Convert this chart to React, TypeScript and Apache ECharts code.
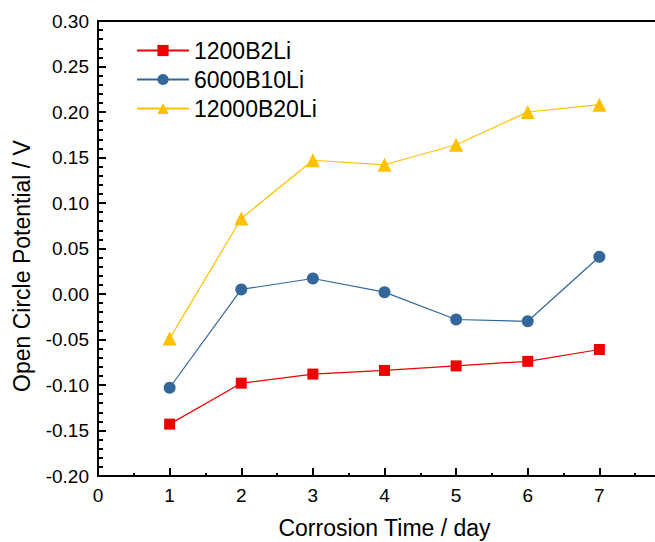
import React, { useEffect, useRef } from "react";
import * as echarts from "echarts";

const days = [1, 2, 3, 4, 5, 6, 7];
const seriesNames = ["1200B2Li", "6000B10Li", "12000B20Li"];
const s1200B2Li = [-0.143, -0.098, -0.088, -0.084, -0.079, -0.074, -0.061];
const s6000B10Li = [-0.103, 0.005, 0.017, 0.002, -0.028, -0.030, 0.041];
const s12000B20Li = [-0.049, 0.083, 0.147, 0.142, 0.164, 0.200, 0.208];
const xTitle = "Corrosion Time / day";
const yTitle = "Open Circle Potential / V";

const FONT = "Arial, 'Liberation Sans', sans-serif";

export default function App() {
  const ref = useRef<HTMLDivElement>(null);
  useEffect(() => {
    if (!ref.current) return;
    const chart = echarts.init(ref.current, undefined, { renderer: "svg" });
    const mk = (vals: number[]) => days.map((d, i) => [d, vals[i]]);
    const colors = ["#f00000", "#336699", "#ffc000"];
    const symbols = ["rect", "circle", "triangle"];
    const sizes = [11, 12, 14];
    const datas = [s1200B2Li, s6000B10Li, s12000B20Li];
    chart.setOption({
      animation: false,
      backgroundColor: "#ffffff",
      textStyle: { fontFamily: FONT },
      grid: { left: 98, top: 21, width: 573, height: 455, outerBoundsMode: "none", containLabel: false },
      legend: {
        left: 131,
        top: 34,
        orient: "vertical",
        itemWidth: 52,
        itemHeight: 14,
        itemGap: 6,
        textStyle: { fontSize: 23, color: "#000", fontFamily: FONT },
        data: seriesNames,
      },
      graphic: [
        {
          type: "text",
          x: 22,
          y: 266,
          rotation: Math.PI / 2,
          style: {
            text: yTitle,
            fontSize: 23,
            fontFamily: FONT,
            fill: "#000",
            align: "center",
            verticalAlign: "middle",
          },
        },
      ],
      xAxis: [
        {
          type: "value",
          min: 0,
          max: 8,
          interval: 1,
          name: xTitle,
          nameLocation: "middle",
          nameGap: 40,
          nameTextStyle: { fontSize: 23, color: "#000", fontFamily: FONT },
          axisLine: { show: true, onZero: false, lineStyle: { color: "#000", width: 2 } },
          axisTick: { show: true, inside: true, length: 8, lineStyle: { color: "#000", width: 2 } },
          minorTick: { show: true, splitNumber: 2, length: 3, lineStyle: { color: "#000", width: 2 } },
          axisLabel: {
            fontSize: 19,
            color: "#000",
            margin: 10,
            fontFamily: FONT,
            formatter: (v: number) => (v > 7 ? "" : String(v)),
          },
          splitLine: { show: false },
        },
        {
          type: "value",
          position: "top",
          min: 0,
          max: 8,
          interval: 1,
          axisLine: { show: true, onZero: false, lineStyle: { color: "#000", width: 2 } },
          axisTick: { show: false },
          axisLabel: { show: false },
          splitLine: { show: false },
        },
      ],
      yAxis: {
        type: "value",
        min: -0.2,
        max: 0.3,
        interval: 0.05,
        axisLine: { show: true, onZero: false, lineStyle: { color: "#000", width: 2 } },
        axisTick: { show: true, inside: true, length: 8, lineStyle: { color: "#000", width: 2 } },
        minorTick: { show: true, splitNumber: 5, length: 5, lineStyle: { color: "#000", width: 2 } },
        axisLabel: {
          fontSize: 19,
          color: "#000",
          margin: 9,
          fontFamily: FONT,
          formatter: (v: number) => v.toFixed(2),
        },
        splitLine: { show: false },
      },
      series: seriesNames.map((name, i) => ({
        name,
        type: "line",
        xAxisIndex: 0,
        data: mk(datas[i]),
        symbol: symbols[i],
        symbolSize: sizes[i],
        showSymbol: true,
        lineStyle: { color: colors[i], width: 1.2 },
        itemStyle: { color: colors[i] },
        emphasis: { disabled: true },
      })),
    });
    return () => chart.dispose();
  }, []);
  return (
    <div
      ref={ref}
      style={{ position: "fixed", left: 0, top: 0, width: 655, height: 542, background: "#fff" }}
    />
  );
}
